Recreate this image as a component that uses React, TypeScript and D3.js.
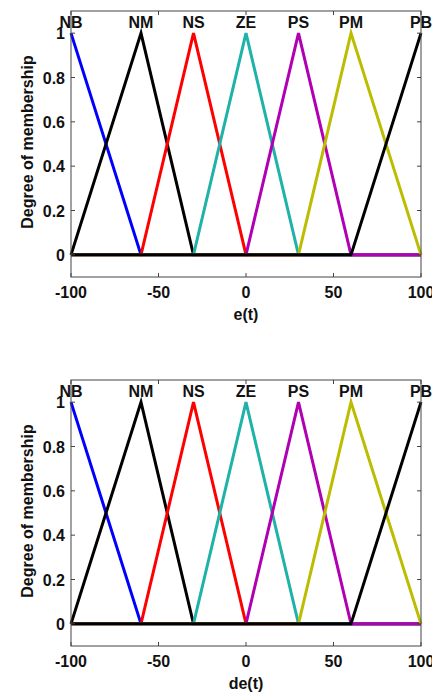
import React from "react";
import * as d3 from "d3";

const mfNames = ["NB", "NM", "NS", "ZE", "PS", "PM", "PB"];
const mfA = [-100, -100, -60, -30, 0, 30, 60];
const mfB = [-100, -60, -30, 0, 30, 60, 100];
const mfC = [-60, -30, 0, 30, 60, 100, 100];
const mfColors = ["#0000ff", "#000000", "#ff0000", "#1fb2a8", "#b000b4", "#bcbc00", "#000000"];
const xTicks = [-100, -50, 0, 50, 100];
const yTicks = [0, 0.2, 0.4, 0.6, 0.8, 1];
const yTickLabels = ["0", "0.2", "0.4", "0.6", "0.8", "1"];
const xLabels = ["e(t)", "de(t)"];
const panelTops = [11, 380];

const W = 432;
const H = 693;
const FONT = "'Liberation Sans', Arial, sans-serif";

function trimf(x: number, a: number, b: number, c: number): number {
  const left = b === a ? (x >= b ? 1 : 0) : (x - a) / (b - a);
  const right = c === b ? (x <= b ? 1 : 0) : (c - x) / (c - b);
  return Math.max(0, Math.min(left, right, 1));
}

function Panel({ top, xLabel }: { top: number; xLabel: string }) {
  const left = 71;
  const right = 421;
  const bottom = top + 266;
  const x = d3.scaleLinear().domain([-100, 100]).range([left, right]);
  const y = d3.scaleLinear().domain([-0.1, 1.1]).range([bottom, top]);
  const line = d3
    .line<[number, number]>()
    .x((d) => x(d[0]))
    .y((d) => y(d[1]));
  const tickLen = 4;
  return (
    <g>
      <rect x={left} y={top} width={right - left} height={bottom - top} fill="#fff" stroke="none" />
      {mfNames.map((name, i) => {
        const xs = Array.from(new Set([-100, mfA[i], mfB[i], mfC[i], 100])).sort((p, q) => p - q);
        const pts: [number, number][] = xs.map((v) => {
          let m = trimf(v, mfA[i], mfB[i], mfC[i]);
          if (mfA[i] === mfB[i] && v === mfB[i]) m = 1;
          if (mfC[i] === mfB[i] && v === mfB[i]) m = 1;
          return [v, m];
        });
        return (
          <path
            key={name}
            d={line(pts) || ""}
            fill="none"
            stroke={mfColors[i]}
            strokeWidth={3}
            strokeLinejoin="miter"
          />
        );
      })}
      <rect x={left} y={top} width={right - left} height={bottom - top} fill="none" stroke="#444" strokeWidth={1} />
      {xTicks.map((t) => (
        <g key={"xt" + t}>
          <line x1={x(t)} x2={x(t)} y1={bottom} y2={bottom - tickLen} stroke="#444" />
          <line x1={x(t)} x2={x(t)} y1={top} y2={top + tickLen} stroke="#444" />
          <text
            x={x(t)}
            y={bottom + 21}
            textAnchor="middle"
            fontFamily={FONT}
            fontWeight="bold"
            fontSize={16}
            fill="#111"
          >
            {t}
          </text>
        </g>
      ))}
      {yTicks.map((t, i) => (
        <g key={"yt" + t}>
          <line x1={left} x2={left + tickLen} y1={y(t)} y2={y(t)} stroke="#444" />
          <line x1={right} x2={right - tickLen} y1={y(t)} y2={y(t)} stroke="#444" />
          <text
            x={left - 6}
            y={y(t) + 6}
            textAnchor="end"
            fontFamily={FONT}
            fontWeight="bold"
            fontSize={16}
            fill="#111"
          >
            {yTickLabels[i]}
          </text>
        </g>
      ))}
      {mfNames.map((name, i) => (
        <text
          key={"lab" + name}
          x={x(mfB[i])}
          y={top + 17}
          textAnchor="middle"
          fontFamily={FONT}
          fontWeight="bold"
          fontSize={16}
          fill="#111"
        >
          {name}
        </text>
      ))}
      <text
        x={(left + right) / 2}
        y={bottom + 43}
        textAnchor="middle"
        fontFamily={FONT}
        fontWeight="bold"
        fontSize={16}
        fill="#111"
      >
        {xLabel}
      </text>
      <text
        transform={`translate(${33},${top + 131}) rotate(-90)`}
        textAnchor="middle"
        fontFamily={FONT}
        fontWeight="bold"
        fontSize={16}
        fill="#111"
      >
        Degree of membership
      </text>
    </g>
  );
}

export default function App() {
  return (
    <div style={{ position: "absolute", left: 0, top: 0 }}>
      <svg width={W} height={H} style={{ display: "block", background: "#fff" }}>
        <rect x={0} y={0} width={W} height={H} fill="#fff" />
        {panelTops.map((t, i) => (
          <Panel key={i} top={t} xLabel={xLabels[i]} />
        ))}
      </svg>
    </div>
  );
}
